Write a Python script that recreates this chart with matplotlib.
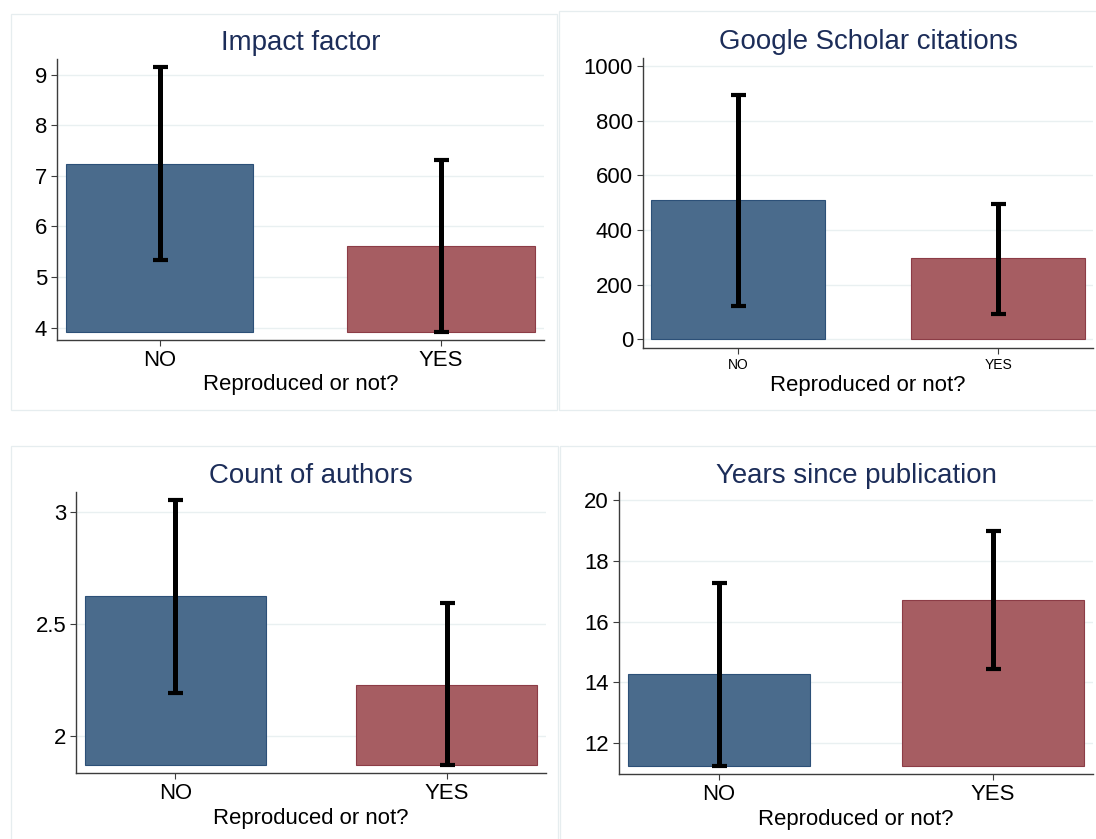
import matplotlib
matplotlib.use("Agg")
import matplotlib.pyplot as plt
from matplotlib.patches import Rectangle
import numpy as np

plt.rcParams['font.family'] = ['Liberation Sans', 'DejaVu Sans']

groups = ["NO", "YES"]

# mean and 95% CI per group
impact_mean = [7.24, 5.62]
impact_lo = [5.34, 3.91]
impact_hi = [9.15, 7.32]

cites_mean = [509, 297]
cites_lo = [123, 94]
cites_hi = [895, 497]

authors_mean = [2.624, 2.229]
authors_lo = [2.193, 1.867]
authors_hi = [3.054, 2.593]

years_mean = [14.26, 16.71]
years_lo = [11.23, 14.43]
years_hi = [17.28, 18.99]

panels = [
    ("Impact factor", impact_mean, impact_lo, impact_hi, [4, 5, 6, 7, 8, 9], ["4", "5", "6", "7", "8", "9"]),
    ("Google Scholar citations", cites_mean, cites_lo, cites_hi,
     [0, 200, 400, 600, 800, 1000], ["0", "200", "400", "600", "800", "1000"]),
    ("Count of authors", authors_mean, authors_lo, authors_hi, [2, 2.5, 3], ["2", "2.5", "3"]),
    ("Years since publication", years_mean, years_lo, years_hi,
     [12, 14, 16, 18, 20], ["12", "14", "16", "18", "20"]),
]

W, H = 1096, 839
# axes boxes in pixels: left, right, top, bottom
boxes = [
    (57, 543.6, 59.3, 340),
    (643, 1093, 57.7, 347.7),
    (76.4, 545.7, 492.3, 773.3),
    (619, 1093, 492.3, 774.3),
]
# outer panel frames in pixels: left, right, top, bottom
frames = [
    (11, 557, 14, 410),
    (559, 1100, 11, 410),
    (11, 558, 446, 845),
    (560, 1100, 446, 845),
]
xtick_sizes = [15.9, 10, 15.9, 15.9]

blue = '#4a6b8c'
blue_edge = '#2c5078'
red = '#a65d62'
red_edge = '#8c3c46'
title_col = '#1c2d59'
grid_col = '#e9f0f1'

fig = plt.figure(figsize=(W / 100, H / 100), dpi=100)
fig.patch.set_facecolor('white')

for (l, r, t, b) in frames:
    fig.patches.append(Rectangle((l / W, 1 - b / H), (r - l) / W, (b - t) / H,
                                 transform=fig.transFigure, fill=False,
                                 edgecolor='#e6edef', linewidth=0.9))

for i, (title, mean, lo, hi, yt, ytl) in enumerate(panels):
    l, r, t, b = boxes[i]
    ax = fig.add_axes([l / W, 1 - b / H, (r - l) / W, (b - t) / H])

    x = np.arange(len(groups))
    base = 0 if yt[0] <= 0 else min(lo)
    heights = np.array(mean) - base
    ax.bar(x, heights, bottom=base, width=0.667, color=[blue, red],
           edgecolor=[blue_edge, red_edge], linewidth=0.8, zorder=2)
    yerr = [np.array(mean) - np.array(lo), np.array(hi) - np.array(mean)]
    ax.errorbar(x, mean, yerr=yerr, fmt='none', ecolor='black',
                elinewidth=3.6, capsize=5.4, capthick=3, zorder=3)

    lower = min(base, yt[0])
    upper = max(max(hi), yt[-1])
    pad = 0.03 * (upper - lower)
    ax.set_ylim(lower - pad, upper + pad)
    ax.set_xlim(-0.365, 1.365)

    ax.set_yticks(yt)
    ax.set_yticklabels(ytl, fontsize=15.9)
    ax.set_xticks(x)
    ax.set_xticklabels(groups, fontsize=xtick_sizes[i])
    ax.yaxis.grid(True, color=grid_col, linewidth=1.0, zorder=0)
    ax.set_axisbelow(True)

    for side in ['top', 'right']:
        ax.spines[side].set_visible(False)
    for side in ['left', 'bottom']:
        ax.spines[side].set_color('#3c3c3c')
        ax.spines[side].set_linewidth(1.0)
    ax.tick_params(axis='both', length=4, width=0.8, color='#3c3c3c', pad=3.2)

    ax.set_title(title, fontsize=19.9, color=title_col, pad=6.5)
    ax.set_xlabel("Reproduced or not?", fontsize=15.9, labelpad=2.5)

fig.savefig("out.png", dpi=100, facecolor='white')
